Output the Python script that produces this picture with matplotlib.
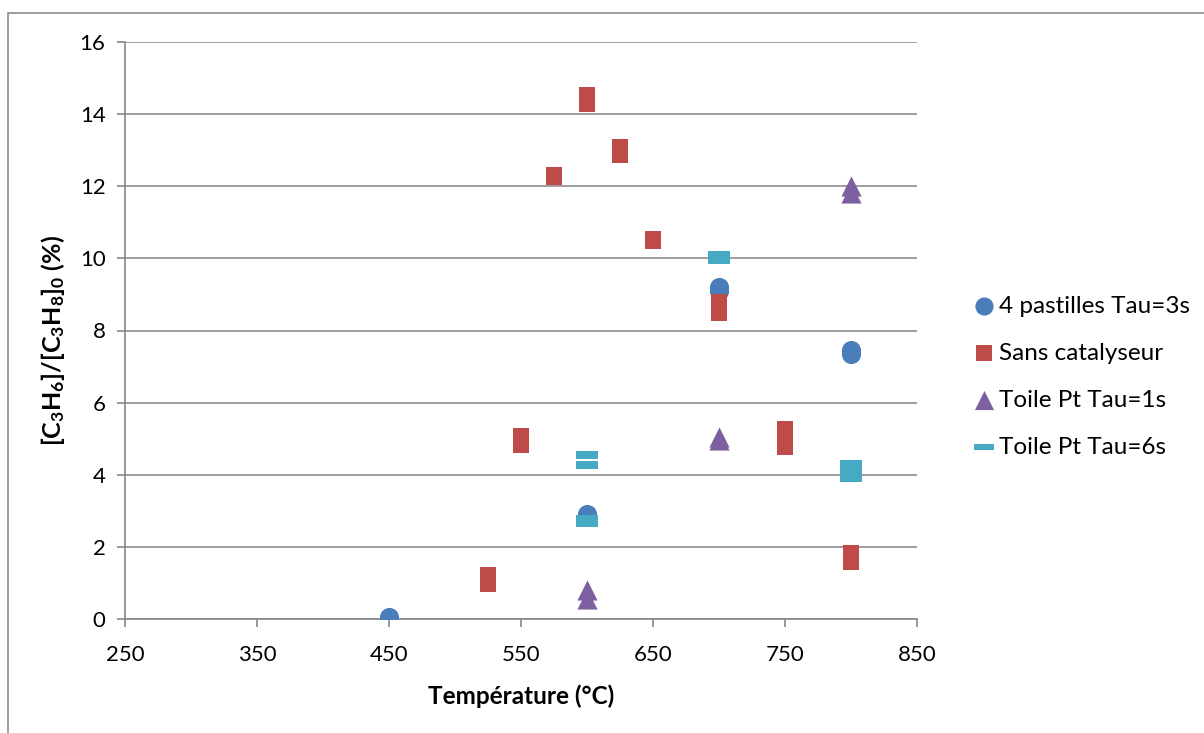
import matplotlib.pyplot as plt
from matplotlib.patches import Rectangle

pastilles_x = [450, 600, 700, 700, 800, 800]
pastilles_y = [0.05, 2.92, 9.1, 9.2, 7.35, 7.45]

sans_cat_x = [525, 525, 550, 550, 575, 600, 600, 625, 625, 650, 700, 700, 750, 750, 800, 800]
sans_cat_y = [1.0, 1.2, 4.85, 5.05, 12.28, 14.3, 14.5, 12.9, 13.05, 10.52, 8.5, 8.75, 4.8, 5.25, 1.6, 1.8]

toile1_x = [600, 600, 700, 700, 800, 800]
toile1_y = [0.55, 0.8, 4.95, 5.05, 11.8, 12.0]

toile6_x = [600, 600, 600, 600, 700, 700, 800, 800, 800]
toile6_y = [4.28, 4.54, 2.65, 2.78, 9.95, 10.1, 3.9, 4.1, 4.3]

labels = ['4 pastilles Tau=3s', 'Sans catalyseur', 'Toile Pt Tau=1s', 'Toile Pt Tau=6s']
colors = ['#4a7ebb', '#be4b48', '#7d60a0', '#46aac5']

x_ticks = [250, 350, 450, 550, 650, 750, 850]
y_ticks = [0, 2, 4, 6, 8, 10, 12, 14, 16]

plt.rcParams['font.family'] = ['Lato', 'DejaVu Sans']
plt.rcParams['mathtext.fontset'] = 'custom'
plt.rcParams['mathtext.rm'] = 'Lato:bold'
plt.rcParams['mathtext.bf'] = 'Lato:bold'
plt.rcParams['mathtext.default'] = 'bf'

# Excel-style flat dash marker (wide, short rectangle)
dash = [(-1.5, -0.5), (1.5, -0.5), (1.5, 0.5), (-1.5, 0.5), (-1.5, -0.5)]
# slightly tall square like the Excel markers
tall_square = [(-0.45, -0.5), (0.45, -0.5), (0.45, 0.5), (-0.45, 0.5), (-0.45, -0.5)]

fig = plt.figure(figsize=(12.04, 7.33), dpi=100)
ax = fig.add_axes([125 / 1204, 1 - 619 / 733, (917 - 125) / 1204, (619 - 42) / 733])

# outer chart border
fig.patches.append(Rectangle((8 / 1204, -0.05), 1.1, 1 - 13 / 733 + 0.05,
                             transform=fig.transFigure, fill=False,
                             edgecolor='#8c8c8c', linewidth=1.2, zorder=0))

ax.scatter(pastilles_x, pastilles_y, marker='o', s=190, color=colors[0], linewidths=0,
           label=labels[0], zorder=3)
ax.scatter(sans_cat_x, sans_cat_y, marker=tall_square, s=165, color=colors[1], linewidths=0,
           label=labels[1], zorder=3)
ax.scatter(toile1_x, toile1_y, marker='^', s=210, color=colors[2], linewidths=0,
           label=labels[2], zorder=3)
ax.scatter(toile6_x, toile6_y, marker=dash, s=230, color=colors[3], linewidths=0,
           label=labels[3], zorder=3)

ax.set_xlim(250, 850)
ax.set_ylim(0, 16)
ax.set_xticks(x_ticks)
ax.set_yticks(y_ticks)
ax.tick_params(axis='both', labelsize=16, color='#868686', length=6, width=1.2, pad=8)
ax.tick_params(axis='x', pad=13)
ax.grid(axis='y', color='#8c8c8c', linewidth=1.2)
ax.set_axisbelow(True)
for side in ['top', 'right']:
    ax.spines[side].set_visible(False)
for side in ['left', 'bottom']:
    ax.spines[side].set_color('#868686')
    ax.spines[side].set_linewidth(1.2)

ax.set_xlabel('Température (°C)', fontsize=17.5, fontweight='bold')
ax.xaxis.set_label_coords(0.5, (619 - 696) / 577, transform=ax.transAxes)
ax.xaxis.label.set_va('center')
ax.set_ylabel('[C$_3$H$_6$]/[C$_3$H$_8$]$_0$ (%)', fontsize=18, fontweight='bold')
ax.yaxis.set_label_coords((53 - 125) / 792, (619 - 340) / 577)
ax.yaxis.label.set_va('center')

leg = ax.legend(loc='center left', bbox_to_anchor=(1.039, 0.42), frameon=False, fontsize=17.5,
                handletextpad=0.0, labelspacing=1.07, markerscale=0.95, handlelength=1.2)

fig.savefig('out.png', dpi=100)
